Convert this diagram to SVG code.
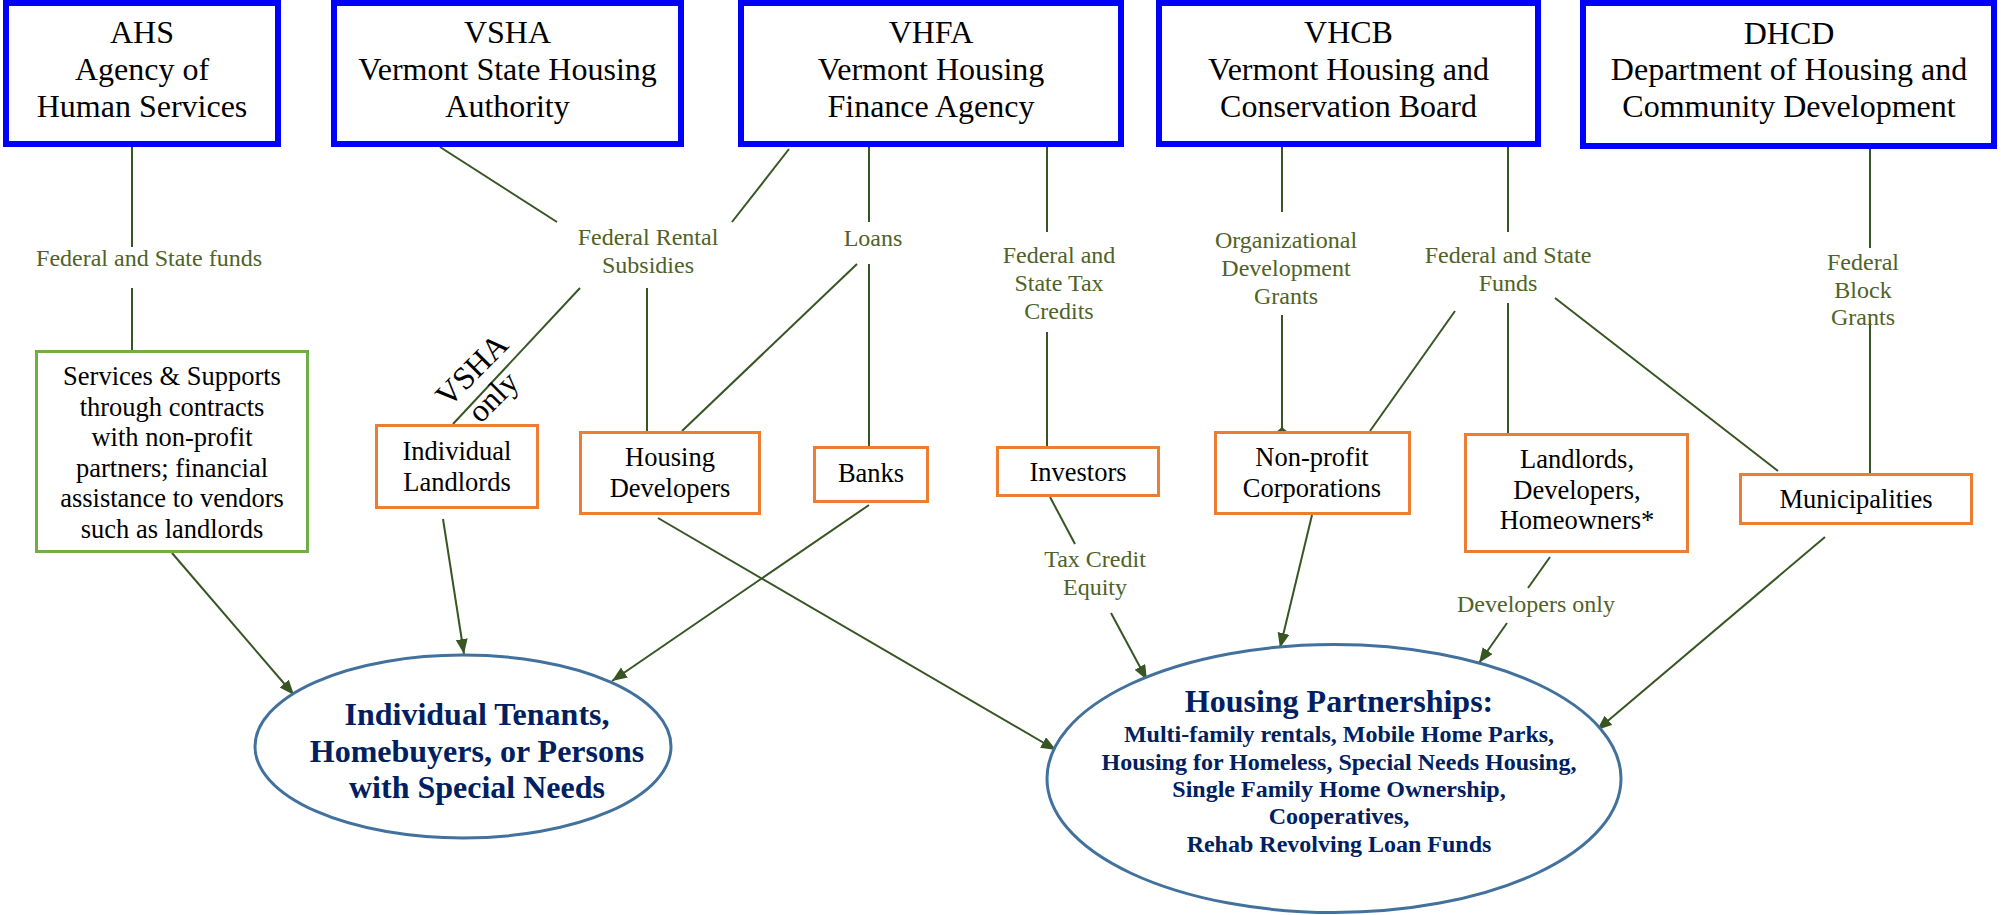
<svg xmlns="http://www.w3.org/2000/svg" width="2001" height="915" viewBox="0 0 2001 915">
<defs>
<marker id="ah" markerUnits="userSpaceOnUse" markerWidth="16" markerHeight="13" refX="15" refY="6" orient="auto">
<path d="M0,0 L15,6 L0,12 z" fill="#375623"/>
</marker>
<style>
text{font-family:"Liberation Serif","Times New Roman",serif;text-anchor:middle}
.top rect{fill:#fff;stroke:#0000ff;stroke-width:6}
.top text{font-size:32px;fill:#000}
.ob rect{fill:#fff;stroke:#ed7d31;stroke-width:3}
.ob text,.gb text{font-size:26.5px;fill:#000}
.gb rect{fill:#fff;stroke:#70ad47;stroke-width:3}
.lbl text{font-size:24px;fill:#4f6228}
.el ellipse{fill:#fff;stroke:#41719c;stroke-width:3}
.el text{font-weight:bold;fill:#002060}
#conn line{stroke:#375623;stroke-width:2}
#conn line.a{marker-end:url(#ah)}
</style>
</defs>
<rect width="2001" height="915" fill="#fff"/>

<g id="conn">
<line x1="132" y1="147" x2="132" y2="247"/>
<line x1="132" y1="288" x2="132" y2="350"/>
<line x1="440" y1="147" x2="557" y2="222"/>
<line x1="789" y1="149" x2="732" y2="222"/>
<line x1="580" y1="288" x2="453" y2="424"/>
<line x1="647" y1="288" x2="647" y2="431"/>
<line x1="869" y1="147" x2="869" y2="222"/>
<line x1="869" y1="264" x2="869" y2="446"/>
<line x1="857" y1="264" x2="682" y2="431"/>
<line x1="1047" y1="147" x2="1047" y2="232"/>
<line x1="1047" y1="332" x2="1047" y2="446"/>
<line x1="1282" y1="147" x2="1282" y2="212"/>
<line x1="1282" y1="315" x2="1282" y2="430"/>
<path d="M1282,427 L1289.5,433.5 L1282,440 L1274.5,433.5 z" fill="#375623"/>
<line x1="1508" y1="147" x2="1508" y2="232"/>
<line x1="1508" y1="303" x2="1508" y2="433"/>
<line x1="1455" y1="311" x2="1370" y2="431"/>
<line x1="1555" y1="298" x2="1778" y2="471"/>
<line x1="1870" y1="149" x2="1870" y2="248"/>
<line x1="1870" y1="320" x2="1870" y2="473"/>
<line x1="1050" y1="497" x2="1075" y2="544"/>
<line x1="1550" y1="557" x2="1528" y2="588"/>
<line class="a" x1="172" y1="553" x2="294" y2="695"/>
<line class="a" x1="443" y1="519" x2="464" y2="654"/>
<line class="a" x1="869" y1="505" x2="612" y2="681"/>
<line class="a" x1="658" y1="518" x2="1056" y2="750"/>
<line class="a" x1="1111" y1="613" x2="1147" y2="680"/>
<line class="a" x1="1312" y1="515" x2="1280" y2="648"/>
<line class="a" x1="1507" y1="623" x2="1479" y2="663"/>
<line class="a" x1="1825" y1="537" x2="1597" y2="730"/>
</g>

<g id="ahs" class="top">
<rect x="6" y="3" width="272" height="141"/>
<text x="142" y="43">AHS</text>
<text x="142" y="80">Agency of</text>
<text x="142" y="117">Human Services</text>
</g>
<g id="vsha" class="top">
<rect x="334" y="3" width="347" height="141"/>
<text x="507.5" y="43">VSHA</text>
<text x="507.5" y="80">Vermont State Housing</text>
<text x="507.5" y="117">Authority</text>
</g>
<g id="vhfa" class="top">
<rect x="741" y="3" width="380" height="141"/>
<text x="931" y="43">VHFA</text>
<text x="931" y="80">Vermont Housing</text>
<text x="931" y="117">Finance Agency</text>
</g>
<g id="vhcb" class="top">
<rect x="1159" y="3" width="379" height="141"/>
<text x="1348.5" y="43">VHCB</text>
<text x="1348.5" y="80">Vermont Housing and</text>
<text x="1348.5" y="117">Conservation Board</text>
</g>
<g id="dhcd" class="top">
<rect x="1583" y="3" width="411" height="143"/>
<text x="1789" y="44">DHCD</text>
<text x="1789" y="80">Department of Housing and</text>
<text x="1789" y="117">Community Development</text>
</g>

<g id="services" class="gb">
<rect x="36.5" y="351.5" width="271" height="200"/>
<text x="172" y="385">Services &amp; Supports</text>
<text x="172" y="415.5">through contracts</text>
<text x="172" y="446">with non-profit</text>
<text x="172" y="476.5">partners; financial</text>
<text x="172" y="507">assistance to vendors</text>
<text x="172" y="537.5">such as landlords</text>
</g>

<g id="indiv-landlords" class="ob">
<rect x="376.5" y="425.5" width="161" height="82"/>
<text x="457" y="460">Individual</text>
<text x="457" y="491">Landlords</text>
</g>
<g id="housing-developers" class="ob">
<rect x="580.5" y="432.5" width="179" height="81"/>
<text x="670" y="466">Housing</text>
<text x="670" y="497">Developers</text>
</g>
<g id="banks" class="ob">
<rect x="814.5" y="447.5" width="113" height="54"/>
<text x="871" y="482">Banks</text>
</g>
<g id="investors" class="ob">
<rect x="997.5" y="447.5" width="161" height="48"/>
<text x="1078" y="481">Investors</text>
</g>
<g id="nonprofit" class="ob">
<rect x="1215.5" y="432.5" width="194" height="81"/>
<text x="1312" y="466">Non-profit</text>
<text x="1312" y="497">Corporations</text>
</g>
<g id="landlords-dev" class="ob">
<rect x="1465.5" y="434.5" width="222" height="117"/>
<text x="1577" y="468">Landlords,</text>
<text x="1577" y="499">Developers,</text>
<text x="1577" y="529">Homeowners*</text>
</g>
<g id="municipalities" class="ob">
<rect x="1740.5" y="474.5" width="231" height="49"/>
<text x="1856" y="508">Municipalities</text>
</g>

<g id="labels" class="lbl">
<text x="149" y="266">Federal and State funds</text>
<text x="648" y="245">Federal Rental</text>
<text x="648" y="273">Subsidies</text>
<text x="873" y="246">Loans</text>
<text x="1059" y="263">Federal and</text>
<text x="1059" y="291">State Tax</text>
<text x="1059" y="319">Credits</text>
<text x="1286" y="248">Organizational</text>
<text x="1286" y="276">Development</text>
<text x="1286" y="304">Grants</text>
<text x="1508" y="263">Federal and State</text>
<text x="1508" y="291">Funds</text>
<text x="1863" y="270">Federal</text>
<text x="1863" y="298">Block</text>
<text x="1863" y="325">Grants</text>
<text x="1095" y="567">Tax Credit</text>
<text x="1095" y="595">Equity</text>
<text x="1536" y="612">Developers only</text>
</g>

<g id="vsha-only" transform="translate(485,383) rotate(-45)">
<text x="0" y="-8" style="font-size:32px;fill:#000">VSHA</text>
<text x="-4" y="26" style="font-size:32px;fill:#000">only</text>
</g>

<g id="tenants" class="el">
<ellipse cx="463" cy="746.5" rx="208" ry="91.5"/>
<text x="477" y="725" style="font-size:32px">Individual Tenants,</text>
<text x="477" y="762" style="font-size:32px">Homebuyers, or Persons</text>
<text x="477" y="798" style="font-size:32px">with Special Needs</text>
</g>

<g id="partnerships" class="el">
<ellipse cx="1334" cy="778.5" rx="287" ry="134"/>
<text x="1339" y="712" style="font-size:32px">Housing Partnerships:</text>
<text x="1339" y="742" style="font-size:24px">Multi-family rentals, Mobile Home Parks,</text>
<text x="1339" y="770" style="font-size:24px">Housing for Homeless, Special Needs Housing,</text>
<text x="1339" y="797" style="font-size:24px">Single Family Home Ownership,</text>
<text x="1339" y="824" style="font-size:24px">Cooperatives,</text>
<text x="1339" y="852" style="font-size:24px">Rehab Revolving Loan Funds</text>
</g>
</svg>
